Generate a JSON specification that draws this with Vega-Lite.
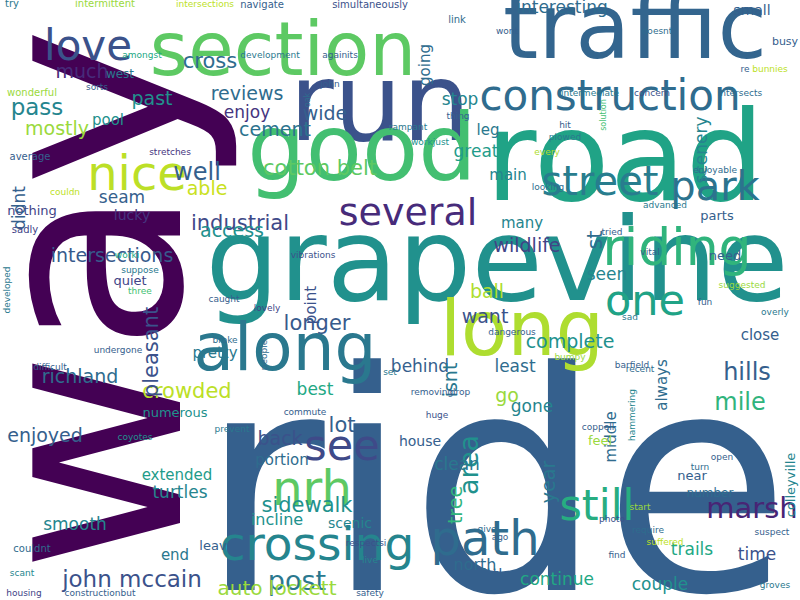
{
  "$schema": "https://vega.github.io/schema/vega-lite/v6.json",
  "width": 800,
  "height": 600,
  "autosize": "none",
  "padding": 0,
  "background": "white",
  "config": {"view": {"stroke": null}},
  "data": {
    "values": [
      {"w": "way", "x": 180, "y": 300, "s": 270, "a": 270, "c": 0.0},
      {"w": "ride", "x": 495, "y": 590, "s": 305, "a": 0, "c": 0.3},
      {"w": "grapevine", "x": 497, "y": 300, "s": 116, "a": 0, "c": 0.5},
      {"w": "run", "x": 380, "y": 140, "s": 108, "a": 0, "c": 0.25},
      {"w": "road", "x": 625, "y": 200, "s": 124, "a": 0, "c": 0.58},
      {"w": "traffic", "x": 635, "y": 58, "s": 90, "a": 0, "c": 0.32},
      {"w": "section", "x": 283, "y": 75, "s": 74, "a": 0, "c": 0.75},
      {"w": "good", "x": 362, "y": 180, "s": 92, "a": 0, "c": 0.7},
      {"w": "along", "x": 285, "y": 370, "s": 66, "a": 0, "c": 0.4},
      {"w": "long", "x": 522, "y": 355, "s": 76, "a": 0, "c": 0.88},
      {"w": "construction", "x": 610, "y": 110, "s": 42, "a": 0, "c": 0.35},
      {"w": "love", "x": 88, "y": 60, "s": 42, "a": 0, "c": 0.25},
      {"w": "nice", "x": 137, "y": 190, "s": 48, "a": 0, "c": 0.9},
      {"w": "several", "x": 408, "y": 225, "s": 38, "a": 0, "c": 0.12},
      {"w": "street", "x": 600, "y": 195, "s": 40, "a": 0, "c": 0.42},
      {"w": "park", "x": 715, "y": 200, "s": 40, "a": 0, "c": 0.38},
      {"w": "riding", "x": 677, "y": 265, "s": 52, "a": 0, "c": 0.65},
      {"w": "one", "x": 645, "y": 315, "s": 43, "a": 0, "c": 0.58},
      {"w": "see", "x": 342, "y": 460, "s": 43, "a": 0, "c": 0.22},
      {"w": "nrh", "x": 312, "y": 505, "s": 48, "a": 0, "c": 0.75},
      {"w": "crossing", "x": 317, "y": 560, "s": 47, "a": 0, "c": 0.45},
      {"w": "path", "x": 485, "y": 555, "s": 48, "a": 0, "c": 0.35},
      {"w": "still", "x": 597, "y": 520, "s": 43, "a": 0, "c": 0.62},
      {"w": "post", "x": 297, "y": 590, "s": 27, "a": 0, "c": 0.4},
      {"w": "john mccain", "x": 132, "y": 587, "s": 23, "a": 0, "c": 0.25},
      {"w": "auto lockett", "x": 277, "y": 595, "s": 20, "a": 0, "c": 0.85},
      {"w": "marsh", "x": 752, "y": 518, "s": 29, "a": 0, "c": 0.1},
      {"w": "hills", "x": 747, "y": 380, "s": 24, "a": 0, "c": 0.3},
      {"w": "mile", "x": 740, "y": 410, "s": 24, "a": 0, "c": 0.65},
      {"w": "crowded", "x": 187, "y": 398, "s": 21, "a": 0, "c": 0.9},
      {"w": "richland", "x": 80, "y": 383, "s": 19, "a": 0, "c": 0.35},
      {"w": "pleasant", "x": 158, "y": 352, "s": 21, "a": 270, "c": 0.25},
      {"w": "industrial", "x": 240, "y": 230, "s": 21, "a": 0, "c": 0.22},
      {"w": "intersections", "x": 112, "y": 262, "s": 19, "a": 0, "c": 0.28},
      {"w": "cotton belt", "x": 320, "y": 175, "s": 21, "a": 0, "c": 0.75},
      {"w": "cross", "x": 210, "y": 68, "s": 21, "a": 0, "c": 0.35},
      {"w": "reviews", "x": 247, "y": 100, "s": 19, "a": 0, "c": 0.35},
      {"w": "cement", "x": 275, "y": 136, "s": 19, "a": 0, "c": 0.38},
      {"w": "pass", "x": 37, "y": 115, "s": 23, "a": 0, "c": 0.45},
      {"w": "mostly", "x": 57, "y": 135, "s": 19, "a": 0, "c": 0.85},
      {"w": "much", "x": 82, "y": 78, "s": 19, "a": 0, "c": 0.12},
      {"w": "past", "x": 152, "y": 105, "s": 19, "a": 0, "c": 0.5},
      {"w": "pool", "x": 108, "y": 125, "s": 15, "a": 0, "c": 0.5},
      {"w": "well", "x": 197, "y": 180, "s": 24, "a": 0, "c": 0.3},
      {"w": "seam", "x": 122, "y": 203, "s": 17, "a": 0, "c": 0.3},
      {"w": "lucky", "x": 132, "y": 220, "s": 14, "a": 0, "c": 0.15},
      {"w": "able", "x": 207, "y": 195, "s": 19, "a": 0, "c": 0.92},
      {"w": "nothing", "x": 32, "y": 215, "s": 13, "a": 0, "c": 0.2},
      {"w": "access", "x": 232, "y": 237, "s": 19, "a": 0, "c": 0.5},
      {"w": "enjoy", "x": 247, "y": 118, "s": 17, "a": 0, "c": 0.15},
      {"w": "wide", "x": 325, "y": 120, "s": 19, "a": 0, "c": 0.3},
      {"w": "enjoyed", "x": 45, "y": 442, "s": 19, "a": 0, "c": 0.3},
      {"w": "extended", "x": 177, "y": 480, "s": 15, "a": 0, "c": 0.55},
      {"w": "turtles", "x": 180, "y": 498, "s": 17, "a": 0, "c": 0.45},
      {"w": "smooth", "x": 75, "y": 530, "s": 17, "a": 0, "c": 0.45},
      {"w": "sidewalk", "x": 307, "y": 512, "s": 21, "a": 0, "c": 0.5},
      {"w": "incline", "x": 277, "y": 525, "s": 16, "a": 0, "c": 0.5},
      {"w": "scenic", "x": 350, "y": 528, "s": 14, "a": 0, "c": 0.45},
      {"w": "back", "x": 280, "y": 445, "s": 19, "a": 0, "c": 0.25},
      {"w": "portion", "x": 282, "y": 465, "s": 15, "a": 0, "c": 0.35},
      {"w": "lot", "x": 342, "y": 432, "s": 21, "a": 0, "c": 0.3},
      {"w": "longer", "x": 317, "y": 330, "s": 21, "a": 0, "c": 0.28},
      {"w": "point", "x": 316, "y": 305, "s": 15, "a": 270, "c": 0.25},
      {"w": "wildlife", "x": 527, "y": 252, "s": 19, "a": 0, "c": 0.2},
      {"w": "ball", "x": 487, "y": 298, "s": 19, "a": 0, "c": 0.88},
      {"w": "many", "x": 522, "y": 228, "s": 15, "a": 0, "c": 0.45},
      {"w": "want", "x": 485, "y": 323, "s": 19, "a": 0, "c": 0.25},
      {"w": "complete", "x": 570, "y": 348, "s": 19, "a": 0, "c": 0.5},
      {"w": "behind", "x": 420, "y": 372, "s": 17, "a": 0, "c": 0.3},
      {"w": "least", "x": 515, "y": 372, "s": 17, "a": 0, "c": 0.35},
      {"w": "gone", "x": 532, "y": 412, "s": 17, "a": 0, "c": 0.45},
      {"w": "go", "x": 507, "y": 402, "s": 19, "a": 0, "c": 0.85},
      {"w": "isnt", "x": 457, "y": 380, "s": 19, "a": 270, "c": 0.4},
      {"w": "area", "x": 478, "y": 465, "s": 27, "a": 270, "c": 0.5},
      {"w": "tree", "x": 462, "y": 505, "s": 19, "a": 270, "c": 0.65},
      {"w": "year", "x": 555, "y": 482, "s": 19, "a": 270, "c": 0.4},
      {"w": "clean", "x": 457, "y": 470, "s": 17, "a": 0, "c": 0.4},
      {"w": "house", "x": 420, "y": 446, "s": 14, "a": 0, "c": 0.3},
      {"w": "middle", "x": 616, "y": 437, "s": 15, "a": 270, "c": 0.35},
      {"w": "always", "x": 667, "y": 385, "s": 15, "a": 270, "c": 0.35},
      {"w": "little", "x": 495, "y": 580, "s": 15, "a": 0, "c": 0.3},
      {"w": "continue", "x": 557, "y": 585, "s": 17, "a": 0, "c": 0.6},
      {"w": "north", "x": 475, "y": 570, "s": 16, "a": 0, "c": 0.35},
      {"w": "couple", "x": 660, "y": 590, "s": 17, "a": 0, "c": 0.5},
      {"w": "time", "x": 757, "y": 560, "s": 17, "a": 0, "c": 0.25},
      {"w": "trails", "x": 692, "y": 555, "s": 17, "a": 0, "c": 0.6},
      {"w": "end", "x": 175, "y": 560, "s": 15, "a": 0, "c": 0.4},
      {"w": "leave", "x": 217, "y": 550, "s": 13, "a": 0, "c": 0.3},
      {"w": "colleyville", "x": 795, "y": 485, "s": 13, "a": 270, "c": 0.45},
      {"w": "st", "x": 602, "y": 240, "s": 21, "a": 270, "c": 0.35},
      {"w": "scenery", "x": 707, "y": 150, "s": 17, "a": 270, "c": 0.45},
      {"w": "didnt", "x": 25, "y": 208, "s": 17, "a": 270, "c": 0.3},
      {"w": "going", "x": 430, "y": 65, "s": 15, "a": 270, "c": 0.35},
      {"w": "interesting", "x": 562, "y": 13, "s": 17, "a": 0, "c": 0.35},
      {"w": "small", "x": 752, "y": 15, "s": 14, "a": 0, "c": 0.3},
      {"w": "busy", "x": 785, "y": 45, "s": 11, "a": 0, "c": 0.3},
      {"w": "stop", "x": 460, "y": 105, "s": 17, "a": 0, "c": 0.45},
      {"w": "leg", "x": 488, "y": 135, "s": 15, "a": 0, "c": 0.4},
      {"w": "great", "x": 476, "y": 157, "s": 17, "a": 0, "c": 0.55},
      {"w": "main", "x": 508, "y": 180, "s": 15, "a": 0, "c": 0.45},
      {"w": "seen", "x": 607, "y": 280, "s": 17, "a": 0, "c": 0.45},
      {"w": "parts", "x": 717, "y": 220, "s": 13, "a": 0, "c": 0.3},
      {"w": "need", "x": 725, "y": 260, "s": 13, "a": 0, "c": 0.3},
      {"w": "close", "x": 760, "y": 340, "s": 15, "a": 0, "c": 0.3},
      {"w": "near", "x": 692, "y": 480, "s": 13, "a": 0, "c": 0.3},
      {"w": "number", "x": 710, "y": 497, "s": 12, "a": 0, "c": 0.35},
      {"w": "feel", "x": 600, "y": 445, "s": 13, "a": 0, "c": 0.85},
      {"w": "best", "x": 315, "y": 395, "s": 17, "a": 0, "c": 0.6},
      {"w": "pretty", "x": 215, "y": 358, "s": 15, "a": 0, "c": 0.4},
      {"w": "quiet", "x": 130, "y": 285, "s": 13, "a": 0, "c": 0.2},
      {"w": "numerous", "x": 175, "y": 417, "s": 13, "a": 0, "c": 0.5},
      {"w": "try", "x": 12, "y": 7, "s": 10, "a": 0, "c": 0.4},
      {"w": "intermittent", "x": 105, "y": 7, "s": 10, "a": 0, "c": 0.85},
      {"w": "intersections", "x": 205, "y": 7, "s": 9, "a": 0, "c": 0.9},
      {"w": "navigate", "x": 262, "y": 8, "s": 10, "a": 0, "c": 0.3},
      {"w": "simultaneously", "x": 370, "y": 8, "s": 10, "a": 0, "c": 0.25},
      {"w": "wont", "x": 507, "y": 34, "s": 9, "a": 0, "c": 0.3},
      {"w": "doesnt", "x": 657, "y": 34, "s": 9, "a": 0, "c": 0.35},
      {"w": "link", "x": 457, "y": 23, "s": 10, "a": 0, "c": 0.35},
      {"w": "sorts", "x": 97, "y": 90, "s": 9, "a": 0, "c": 0.3},
      {"w": "amongst", "x": 142, "y": 58, "s": 9, "a": 0, "c": 0.6},
      {"w": "development", "x": 270, "y": 58, "s": 9, "a": 0, "c": 0.4},
      {"w": "againits", "x": 340, "y": 58, "s": 9, "a": 0, "c": 0.3},
      {"w": "west", "x": 120, "y": 78, "s": 12, "a": 0, "c": 0.4},
      {"w": "wonderful", "x": 32, "y": 96, "s": 10, "a": 0, "c": 0.85},
      {"w": "average", "x": 30, "y": 160, "s": 10, "a": 0, "c": 0.3},
      {"w": "stretches", "x": 170, "y": 155, "s": 9, "a": 0, "c": 0.15},
      {"w": "sadly", "x": 25, "y": 233, "s": 10, "a": 0, "c": 0.2},
      {"w": "couldn", "x": 65, "y": 195, "s": 9, "a": 0, "c": 0.9},
      {"w": "developed", "x": 10, "y": 290, "s": 9, "a": 270, "c": 0.4},
      {"w": "vibrations", "x": 313, "y": 258, "s": 9, "a": 0, "c": 0.25},
      {"w": "worki", "x": 127, "y": 258, "s": 9, "a": 0, "c": 0.6},
      {"w": "suppose", "x": 140, "y": 273, "s": 9, "a": 0, "c": 0.4},
      {"w": "three", "x": 140, "y": 294, "s": 9, "a": 0, "c": 0.7},
      {"w": "caught", "x": 224, "y": 302, "s": 9, "a": 0, "c": 0.3},
      {"w": "people", "x": 267, "y": 355, "s": 9, "a": 270, "c": 0.35},
      {"w": "lovely", "x": 267, "y": 311, "s": 9, "a": 0, "c": 0.2},
      {"w": "undergone", "x": 118, "y": 353, "s": 9, "a": 0, "c": 0.3},
      {"w": "broke", "x": 225, "y": 343, "s": 9, "a": 0, "c": 0.35},
      {"w": "difficult", "x": 50, "y": 370, "s": 9, "a": 0, "c": 0.3},
      {"w": "coyotes", "x": 135, "y": 440, "s": 9, "a": 0, "c": 0.5},
      {"w": "prevent", "x": 232, "y": 432, "s": 9, "a": 0, "c": 0.4},
      {"w": "commute", "x": 305, "y": 415, "s": 9, "a": 0, "c": 0.3},
      {"w": "couldnt", "x": 32, "y": 552, "s": 10, "a": 0, "c": 0.35},
      {"w": "scant", "x": 22, "y": 576, "s": 9, "a": 0, "c": 0.45},
      {"w": "housing", "x": 24, "y": 596, "s": 9, "a": 0, "c": 0.2},
      {"w": "constructionbut", "x": 100, "y": 596, "s": 9, "a": 0, "c": 0.3},
      {"w": "safety", "x": 370, "y": 596, "s": 9, "a": 0, "c": 0.3},
      {"w": "respectsi", "x": 366, "y": 546, "s": 9, "a": 0, "c": 0.25},
      {"w": "live", "x": 370, "y": 563, "s": 9, "a": 0, "c": 0.45},
      {"w": "ago", "x": 500, "y": 540, "s": 9, "a": 0, "c": 0.3},
      {"w": "give", "x": 487, "y": 532, "s": 9, "a": 0, "c": 0.35},
      {"w": "find", "x": 617, "y": 558, "s": 9, "a": 0, "c": 0.3},
      {"w": "photo", "x": 612, "y": 522, "s": 9, "a": 0, "c": 0.25},
      {"w": "require", "x": 648, "y": 533, "s": 9, "a": 0, "c": 0.35},
      {"w": "suffered", "x": 665, "y": 545, "s": 9, "a": 0, "c": 0.9},
      {"w": "suspect", "x": 772, "y": 535, "s": 9, "a": 0, "c": 0.3},
      {"w": "groves", "x": 775, "y": 588, "s": 9, "a": 0, "c": 0.4},
      {"w": "start", "x": 640, "y": 510, "s": 9, "a": 0, "c": 0.85},
      {"w": "sad", "x": 630, "y": 320, "s": 9, "a": 0, "c": 0.4},
      {"w": "dangerous", "x": 512, "y": 335, "s": 9, "a": 0, "c": 0.3},
      {"w": "bumpy", "x": 570, "y": 360, "s": 9, "a": 0, "c": 0.85},
      {"w": "huge", "x": 437, "y": 418, "s": 9, "a": 0, "c": 0.25},
      {"w": "fun", "x": 705, "y": 305, "s": 9, "a": 0, "c": 0.3},
      {"w": "overly", "x": 775, "y": 315, "s": 9, "a": 0, "c": 0.4},
      {"w": "recent", "x": 640, "y": 372, "s": 9, "a": 0, "c": 0.35},
      {"w": "barfield", "x": 632, "y": 368, "s": 9, "a": 0, "c": 0.3},
      {"w": "vital", "x": 650, "y": 255, "s": 9, "a": 0, "c": 0.3},
      {"w": "suggested", "x": 742, "y": 288, "s": 9, "a": 0, "c": 0.85},
      {"w": "advanced", "x": 665, "y": 208, "s": 9, "a": 0, "c": 0.4},
      {"w": "enjoyable", "x": 715, "y": 173, "s": 9, "a": 0, "c": 0.35},
      {"w": "tried", "x": 612, "y": 235, "s": 9, "a": 0, "c": 0.3},
      {"w": "looking", "x": 548, "y": 190, "s": 9, "a": 0, "c": 0.35},
      {"w": "every", "x": 547, "y": 155, "s": 9, "a": 0, "c": 0.88},
      {"w": "solution", "x": 606, "y": 115, "s": 8, "a": 270, "c": 0.7},
      {"w": "hit", "x": 565, "y": 128, "s": 9, "a": 0, "c": 0.3},
      {"w": "plowed", "x": 565, "y": 140, "s": 9, "a": 0, "c": 0.4},
      {"w": "rampant", "x": 408, "y": 130, "s": 9, "a": 0, "c": 0.4},
      {"w": "workjust", "x": 430, "y": 145, "s": 9, "a": 0, "c": 0.5},
      {"w": "thing", "x": 458, "y": 119, "s": 9, "a": 0, "c": 0.3},
      {"w": "intermediate", "x": 590, "y": 96, "s": 9, "a": 0, "c": 0.4},
      {"w": "concern", "x": 652, "y": 96, "s": 9, "a": 0, "c": 0.25},
      {"w": "intersects", "x": 740, "y": 96, "s": 9, "a": 0, "c": 0.35},
      {"w": "bunnies", "x": 770, "y": 72, "s": 9, "a": 0, "c": 0.9},
      {"w": "re", "x": 745, "y": 72, "s": 9, "a": 0, "c": 0.3},
      {"w": "oak", "x": 310, "y": 100, "s": 8, "a": 270, "c": 0.35},
      {"w": "john", "x": 330, "y": 87, "s": 9, "a": 0, "c": 0.3},
      {"w": "drop", "x": 460, "y": 395, "s": 9, "a": 0, "c": 0.3},
      {"w": "set", "x": 390, "y": 375, "s": 9, "a": 0, "c": 0.4},
      {"w": "removing", "x": 432, "y": 395, "s": 9, "a": 0, "c": 0.3},
      {"w": "hammering", "x": 635, "y": 415, "s": 9, "a": 270, "c": 0.45},
      {"w": "open", "x": 722, "y": 460, "s": 9, "a": 0, "c": 0.3},
      {"w": "turn", "x": 700, "y": 470, "s": 9, "a": 0, "c": 0.35},
      {"w": "coppell", "x": 598, "y": 430, "s": 9, "a": 0, "c": 0.3}
    ]
  },
  "mark": {"type": "text", "font": "DejaVu Sans", "align": "center", "baseline": "alphabetic"},
  "encoding": {
    "x": {"field": "x", "type": "quantitative", "scale": {"domain": [0, 800], "nice": false}, "axis": null},
    "y": {"field": "y", "type": "quantitative", "scale": {"domain": [600, 0], "nice": false}, "axis": null},
    "text": {"field": "w", "type": "nominal"},
    "size": {"field": "s", "type": "quantitative", "scale": null},
    "angle": {"field": "a", "type": "quantitative", "scale": null},
    "color": {"field": "c", "type": "quantitative", "scale": {"scheme": "viridis", "domain": [0, 1]}, "legend": null}
  }
}
